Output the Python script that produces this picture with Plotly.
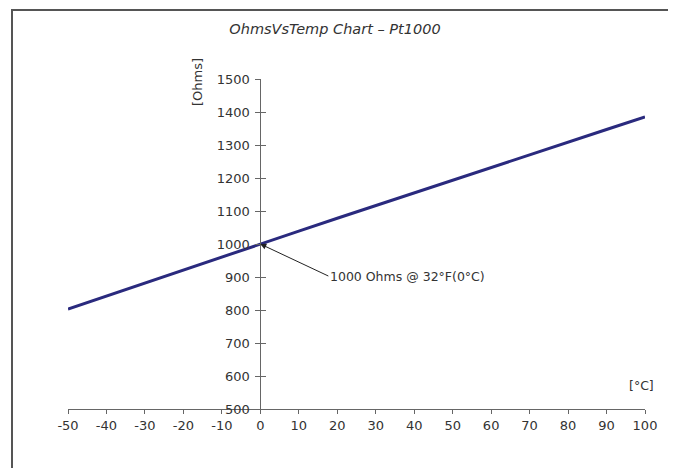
import plotly.graph_objects as go

# Data (Pt1000 resistance vs temperature)
temps_c = [-50, -40, -30, -20, -10, 0, 10, 20, 30, 40, 50, 60, 70, 80, 90, 100]
ohms = [803.1, 842.7, 882.2, 921.6, 960.9, 1000.0, 1039.0, 1077.9,
        1116.7, 1155.4, 1194.0, 1232.4, 1270.8, 1309.0, 1347.1, 1385.1]
x_ticks = [-50, -40, -30, -20, -10, 0, 10, 20, 30, 40, 50, 60, 70, 80, 90, 100]
y_ticks = [500, 600, 700, 800, 900, 1000, 1100, 1200, 1300, 1400, 1500]

FONT = "DejaVu Sans"
TXT = "#333333"
AX = "#666666"

# page body has an 8px margin; figure is offset by it
OFF = 8
W, H = 676 - OFF, 468 - OFF
L, T, R, B = 68 - OFF, 79 - OFF, 31, 59
PW, PH = W - L - R, H - T - B  # 577 x 330


def px_x(px):
    return (px - OFF - L) / PW


def px_y(py):
    return (H - B - (py - OFF)) / PH


fig = go.Figure()
fig.add_trace(go.Scatter(
    x=temps_c, y=ohms, mode="lines",
    line=dict(color="#2a2a7e", width=3),
    showlegend=False, hoverinfo="skip",
))
# invisible trace on overlay axis for cross ticks
fig.add_trace(go.Scatter(
    x=[temps_c[0]], y=[ohms[0]], yaxis="y2", mode="lines",
    line=dict(width=0), showlegend=False, hoverinfo="skip", opacity=0,
))

fig.update_layout(
    width=W, height=H,
    margin=dict(l=L, r=R, t=T, b=B, pad=0),
    paper_bgcolor="white", plot_bgcolor="white",
    font=dict(family=FONT, size=12, color=TXT),
    xaxis=dict(
        range=[-50, 100], tickvals=x_ticks, ticktext=[str(v) for v in x_ticks],
        showgrid=False, zeroline=False, showline=True, linecolor=AX, linewidth=1,
        ticks="outside", ticklen=4, tickcolor=AX, tickwidth=1,
        tickfont=dict(family=FONT, size=13, color=TXT), fixedrange=True,
    ),
    yaxis=dict(
        range=[500, 1500], tickvals=y_ticks, ticktext=[str(v) for v in y_ticks],
        anchor="free", position=1/3, side="left",
        showgrid=False, zeroline=False, showline=True, linecolor=AX, linewidth=1,
        ticks="outside", ticklen=5, tickcolor=AX, tickwidth=1,
        ticklabelstandoff=3,
        tickfont=dict(family=FONT, size=13, color=TXT), fixedrange=True,
    ),
    yaxis2=dict(
        range=[500, 1500], tickvals=y_ticks, showticklabels=False,
        overlaying="y", anchor="free", position=1/3, side="left",
        showgrid=False, zeroline=False, showline=False,
        ticks="inside", ticklen=5, tickcolor=AX, tickwidth=1, fixedrange=True,
    ),
    title=dict(
        text="<i>OhmsVsTemp Chart – Pt1000</i>",
        x=(335 - OFF) / W, xanchor="center", y=1 - (29 - OFF) / H, yanchor="middle",
        font=dict(family=FONT, size=14.5, color=TXT),
    ),
)

# outer frame
fig.add_shape(type="rect", xref="paper", yref="paper",
              x0=px_x(12), x1=px_x(671),
              y0=px_y(500), y1=px_y(10),
              line=dict(color="#555555", width=2), fillcolor="rgba(0,0,0,0)",
              layer="above")

fig.add_annotation(
    x=0, y=1000, xref="x", yref="y",
    text="1000 Ohms @ 32°F(0°C)",
    showarrow=True, arrowhead=2, arrowsize=1.2, arrowwidth=1, arrowcolor="#222222",
    ax=68, ay=32, xanchor="left", yanchor="middle",
    font=dict(family=FONT, size=12.5, color=TXT),
)
fig.add_annotation(
    x=px_x(198), y=px_y(82), xref="paper", yref="paper",
    text="[Ohms]", textangle=-90, showarrow=False,
    xanchor="center", yanchor="middle",
    font=dict(family=FONT, size=13, color=TXT),
)
fig.add_annotation(
    x=px_x(656), y=px_y(385), xref="paper", yref="paper",
    text="[°C]", showarrow=False, xanchor="right", yanchor="middle",
    font=dict(family=FONT, size=12.5, color=TXT),
)

fig.write_html("out.html")
